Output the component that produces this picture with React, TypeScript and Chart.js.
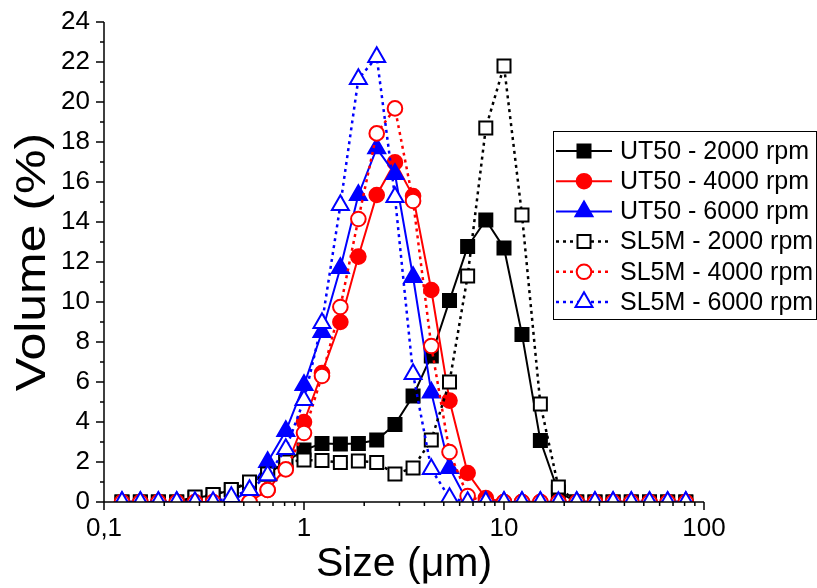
import React, { useEffect, useRef } from 'react';
import { Chart, registerables } from 'chart.js';

Chart.register(...registerables);

const FONT = "'Liberation Sans', Arial, sans-serif";

// particle size grid (µm)
const sizes = [0.123, 0.152, 0.187, 0.231, 0.285, 0.351, 0.433, 0.534, 0.658, 0.811, 1.0, 1.23, 1.52, 1.87, 2.31, 2.85, 3.51, 4.33, 5.34, 6.58, 8.11, 10.0, 12.3, 15.2, 18.7, 23.1, 28.5, 35.1, 43.3, 53.4, 65.8, 81.1];

const ut50_2000 = [0, 0, 0, 0, 0.2, 0.35, 0.6, 0.95, 1.4, 2.0, 2.6, 2.93, 2.9, 2.93, 3.1, 3.88, 5.3, 7.3, 10.07, 12.77, 14.1, 12.7, 8.38, 3.07, 0.5, 0, 0, 0, 0, 0, 0, 0];
const ut50_4000 = [0, 0, 0, 0, 0, 0, 0, 0, 0.6, 1.7, 4.0, 6.45, 9.0, 12.27, 15.35, 16.98, 15.3, 10.6, 5.07, 1.45, 0.2, 0, 0, 0, 0, 0, 0, 0, 0, 0, 0, 0];
const ut50_6000 = [0, 0, 0, 0, 0, 0, 0, 0.6, 2.0, 3.55, 5.85, 8.5, 11.7, 15.35, 17.68, 16.4, 11.25, 5.47, 1.7, 0, 0, 0, 0, 0, 0, 0, 0, 0, 0, 0, 0, 0];
const sl5m_2000 = [0, 0, 0, 0, 0.25, 0.37, 0.62, 1.0, 1.4, 2.0, 2.1, 2.07, 1.97, 2.05, 1.97, 1.4, 1.7, 3.1, 6.0, 11.3, 18.7, 21.8, 14.35, 4.9, 0.75, 0, 0, 0, 0, 0, 0, 0];
const sl5m_4000 = [0, 0, 0, 0, 0, 0, 0, 0, 0.6, 1.63, 3.45, 6.3, 9.75, 14.15, 18.43, 19.68, 15.05, 7.8, 2.5, 0.3, 0, 0, 0, 0, 0, 0, 0, 0, 0, 0, 0, 0];
const sl5m_6000 = [0, 0, 0, 0, 0, 0, 0.25, 0.6, 1.33, 2.65, 5.1, 8.95, 14.85, 21.15, 22.25, 15.25, 6.4, 1.65, 0.2, 0, 0, 0, 0, 0, 0, 0, 0, 0, 0, 0, 0, 0];

const labels = ['UT50 - 2000 rpm', 'UT50 - 4000 rpm', 'UT50 - 6000 rpm', 'SL5M - 2000 rpm', 'SL5M - 4000 rpm', 'SL5M - 6000 rpm'];
const seriesValues = [ut50_2000, ut50_4000, ut50_6000, sl5m_2000, sl5m_4000, sl5m_6000];
const colors = ['#000000', '#ff0000', '#0000ff', '#000000', '#ff0000', '#0000ff'];
const shapes = ['rect', 'circle', 'triangle', 'rect', 'circle', 'triangle'];
const filled = [true, true, true, false, false, false];

const yTicks = [0, 2, 4, 6, 8, 10, 12, 14, 16, 18, 20, 22, 24];
const yTitle = 'Volume (%)';
const xTitle = 'Size (μm)';

const radiusFor = (shape: string) => (shape === 'rect' ? 9.2 : shape === 'circle' ? 7.3 : 9.8);

function drawMarker(ctx: CanvasRenderingContext2D, shape: string, x: number, y: number, color: string, fill: boolean) {
  const r = radiusFor(shape);
  ctx.beginPath();
  if (shape === 'rect') {
    const s = Math.SQRT1_2 * r;
    ctx.rect(x - s, y - s, 2 * s, 2 * s);
  } else if (shape === 'circle') {
    ctx.arc(x, y, r, 0, Math.PI * 2);
  } else {
    ctx.moveTo(x, y - r);
    ctx.lineTo(x + Math.sin((2 * Math.PI) / 3) * r, y + r / 2);
    ctx.lineTo(x - Math.sin((2 * Math.PI) / 3) * r, y + r / 2);
    ctx.closePath();
  }
  ctx.fillStyle = fill ? color : '#ffffff';
  ctx.fill();
  ctx.lineWidth = 2;
  ctx.strokeStyle = color;
  ctx.stroke();
}

const axesPlugin = {
  id: 'axesDeco',
  afterDatasetsDraw(chart: any) {
    const { ctx, chartArea: ca, scales } = chart;
    const x = scales.x;
    const y = scales.y;
    ctx.save();
    ctx.strokeStyle = '#000';
    ctx.lineWidth = 1.5;
    ctx.setLineDash([]);
    ctx.beginPath();
    ctx.moveTo(ca.left, ca.top);
    ctx.lineTo(ca.left, ca.bottom);
    ctx.lineTo(ca.right, ca.bottom);
    for (let v = 0; v <= 24; v++) {
      const py = y.getPixelForValue(v);
      const len = v % 2 === 0 ? 8 : 4;
      ctx.moveTo(ca.left - len, py);
      ctx.lineTo(ca.left, py);
    }
    for (const d of [0.1, 1, 10]) {
      for (let m = 1; m <= 9; m++) {
        const px = x.getPixelForValue(d * m);
        const len = m === 1 ? 8 : 4;
        ctx.moveTo(px, ca.bottom);
        ctx.lineTo(px, ca.bottom + len);
      }
    }
    const p100 = x.getPixelForValue(100);
    ctx.moveTo(p100, ca.bottom);
    ctx.lineTo(p100, ca.bottom + 8);
    ctx.stroke();
    ctx.restore();
  },
  afterDraw(chart: any) {
    const { ctx, chartArea: ca } = chart;
    ctx.save();
    // y axis title (slightly condensed like the original export)
    ctx.save();
    ctx.translate(33, (ca.top + ca.bottom) / 2);
    ctx.rotate(-Math.PI / 2);
    ctx.scale(1, 0.86);
    ctx.fillStyle = '#000';
    ctx.font = `50px ${FONT}`;
    ctx.textAlign = 'center';
    ctx.textBaseline = 'middle';
    ctx.fillText(yTitle, 0, 0);
    ctx.restore();

    ctx.fillStyle = '#fff';
    ctx.fillRect(553.5, 131.5, 263, 188);
    ctx.strokeStyle = '#000';
    ctx.lineWidth = 1;
    ctx.strokeRect(553.5, 131.5, 263, 188);
    chart.data.datasets.forEach((ds: any, i: number) => {
      const cy = 151 + i * 30.2;
      ctx.setLineDash(ds.borderDash || []);
      ctx.strokeStyle = ds.borderColor;
      ctx.lineWidth = ds.borderWidth;
      ctx.beginPath();
      ctx.moveTo(556, cy);
      ctx.lineTo(612, cy);
      ctx.stroke();
      ctx.setLineDash([]);
      drawMarker(ctx, shapes[i], 584, cy, colors[i], filled[i]);
      ctx.fillStyle = '#000';
      ctx.font = `25px ${FONT}`;
      ctx.textBaseline = 'middle';
      ctx.textAlign = 'left';
      ctx.fillText(ds.label, 620, cy + 1);
    });
    ctx.restore();
  },
};

export default function App() {
  const ref = useRef<HTMLCanvasElement | null>(null);

  useEffect(() => {
    if (!ref.current) return;
    const datasets = seriesValues.map((vals, i) => ({
      label: labels[i],
      data: vals.map((v, k) => ({ x: sizes[k], y: v })),
      borderColor: colors[i],
      backgroundColor: colors[i],
      borderWidth: filled[i] ? 2 : 2.5,
      borderDash: filled[i] ? [] : [3, 4],
      pointStyle: shapes[i],
      pointRadius: radiusFor(shapes[i]),
      pointBorderWidth: 2,
      pointBorderColor: colors[i],
      pointBackgroundColor: filled[i] ? colors[i] : '#ffffff',
      tension: 0,
      clip: 0,
      order: 6 - i,
    }));

    const chart = new Chart(ref.current, {
      type: 'line',
      data: { datasets },
      plugins: [axesPlugin],
      options: {
        animation: false,
        responsive: false,
        devicePixelRatio: 1,
        layout: { padding: { left: 0, top: 22, right: 113, bottom: 0 } },
        plugins: { legend: { display: false }, tooltip: { enabled: false } },
        scales: {
          x: {
            type: 'logarithmic',
            min: 0.1,
            max: 100,
            afterFit: (s: any) => {
              s.height = 86;
              s.paddingLeft = 0;
              s.paddingRight = 0;
              s.paddingTop = 0;
              s.paddingBottom = 0;
            },
            grid: { display: false, drawTicks: false },
            border: { display: false },
            ticks: {
              autoSkip: false,
              maxRotation: 0,
              minRotation: 0,
              padding: 11,
              color: '#000',
              font: { family: FONT, size: 26 },
              callback: (v: any) => {
                const n = Number(v);
                const lg = Math.log10(n);
                if (Math.abs(lg - Math.round(lg)) > 1e-6) return '';
                return n < 1 ? '0,1' : String(Math.round(n));
              },
            },
            title: {
              display: true,
              text: xTitle,
              color: '#000',
              font: { family: FONT, size: 41, lineHeight: 1.2 },
              padding: { top: 0, bottom: -1 },
            },
          },
          y: {
            min: 0,
            max: 24,
            afterFit: (s: any) => {
              s.width = 104;
              s.paddingLeft = 0;
              s.paddingRight = 0;
              s.paddingTop = 0;
              s.paddingBottom = 0;
            },
            afterBuildTicks: (s: any) => {
              s.ticks = yTicks.map((v) => ({ value: v }));
            },
            grid: { display: false, drawTicks: false },
            border: { display: false },
            ticks: {
              stepSize: 2,
              padding: 14,
              color: '#000',
              font: { family: FONT, size: 26 },
            },
            title: { display: false },
          },
        },
      },
    } as any);
    return () => chart.destroy();
  }, []);

  return (
    <div style={{ position: 'absolute', left: 0, top: 0, width: 817, height: 588, background: '#fff' }}>
      <canvas ref={ref} width={817} height={588} style={{ display: 'block' }} />
    </div>
  );
}
